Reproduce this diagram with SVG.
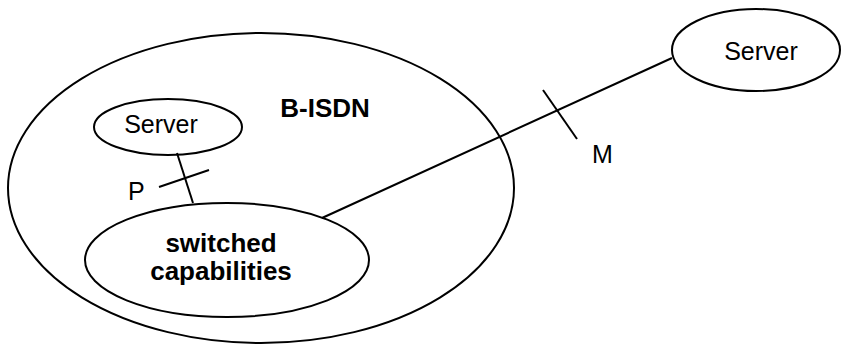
<svg xmlns="http://www.w3.org/2000/svg" width="842" height="344" viewBox="0 0 842 344">
<style>
.shape{fill:none;stroke:#000;stroke-width:2}
.ln{stroke:#000;stroke-width:2;fill:none}
.t{font-family:"Liberation Sans",Arial,sans-serif;font-size:25px;fill:#000}
.b{font-family:"Liberation Sans",Arial,sans-serif;font-size:26px;font-weight:bold;fill:#000}
</style>
<rect width="842" height="344" fill="#fff"/>
<g id="bisdn">
<ellipse class="shape" cx="261" cy="188" rx="253" ry="155"/>
<text class="b" x="325" y="117" text-anchor="middle">B-ISDN</text>
</g>
<g id="connectors">
<line class="ln" x1="177" y1="153" x2="193" y2="203"/>
<line class="ln" x1="159" y1="187" x2="209" y2="170"/>
<line class="ln" x1="322" y1="218" x2="672" y2="58"/>
<line class="ln" x1="543" y1="90" x2="577" y2="139"/>
<text class="t" x="128" y="200">P</text>
<text class="t" x="592" y="163">M</text>
</g>
<g id="server-inner">
<ellipse class="shape" cx="168" cy="127" rx="74" ry="28"/>
<text class="t" x="161" y="133" text-anchor="middle">Server</text>
</g>
<g id="switched">
<ellipse class="shape" cx="227" cy="260" rx="142" ry="57"/>
<text class="b" x="221" y="252" text-anchor="middle">switched</text>
<text class="b" x="221" y="280" text-anchor="middle">capabilities</text>
</g>
<g id="server-outer">
<ellipse class="shape" cx="756" cy="50" rx="84" ry="41"/>
<text class="t" x="761" y="60" text-anchor="middle">Server</text>
</g>
</svg>
